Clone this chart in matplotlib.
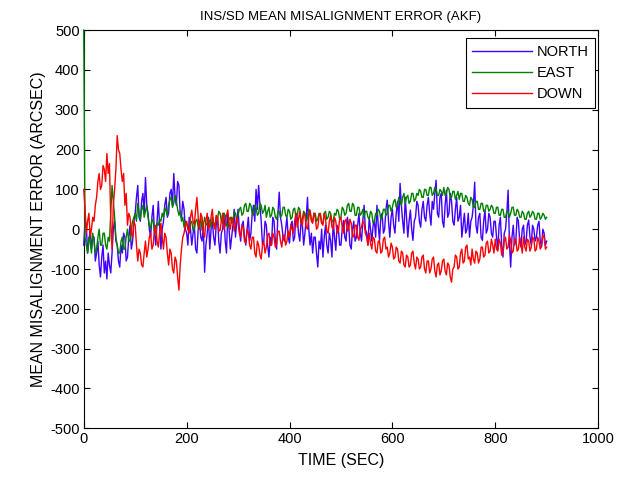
import numpy as np
import matplotlib
matplotlib.use('Agg')
import matplotlib.pyplot as plt

# Misalignment error traces (arcsec), every 2.5 sec (0..900)
north = [-40, 20, 10, -60, -30, 0, -50, -20, -20, -80, -60, -30, -90, -120, -70, -40, -110, -80, -125, -60,
         -90, -110, -60, 0, 20, -30, -40, -80, -95, -40, -60, -10, -20, -80, -70, -20, 10, -50, -30, 20,
         40, 80, 110, 30, 20, 70, 90, 40, 130, 60, 40, 0, -20, 30, 60, -10, -40, 20, 70, 10,
         -50, 0, 20, 60, 80, 30, 40, 90, 100, 60, 140, 80, 60, 120, 110, 40, 30, 70, 50, 0,
         -10, -40, 30, 0, -40, -10, 10, -50, -60, 0, 20, -20, -30, 10, -108, -40, -10, 30, -50, 0,
         20, -20, -40, 10, 30, -30, -60, -10, 0, 40, -30, -60, 40, 0, -50, -20, 10, 50, -20, 20,
         50, 0, -30, 10, 20, -20, -40, 0, 30, -30, -10, 40, 60, 20, 100, 50, 110, 60, 20, -40,
         -30, 20, 10, -40, -70, -20, -40, 30, 20, -30, -50, 40, 93, 30, 10, -20, -30, 0, 30, -20,
         -35, 10, 20, -30, -20, 40, 30, -10, -30, 20, 10, -40, -10, 30, 80, 0, -40, -10, -60, -20,
         -20, -60, -95, -30, -50, 0, -70, -20, 10, -40, -60, -10, -30, -70, 20, -20, -53, 10, 0, -40,
         -40, 0, 22, -20, -30, 30, 10, -40, -50, 0, 20, -30, -20, 10, 40, -10, -30, 20, 60, 0,
         -10, -40, 30, 0, -30, 10, 20, -20, 60, 10, -28, 30, 40, -10, 0, 50, 73, 20, -20, 30,
         50, 10, -10, 40, 70, 20, 115, 60, 20, -10, 80, 30, -20, 20, 48, 0, -28, 20, 30, 70,
         60, 20, 5, 50, 70, 30, 20, 60, 80, 40, 10, 70, 50, 90, 123, 40, 30, 80, 90, 20,
         5, 60, 98, 30, 40, 90, 70, 20, 10, 50, 80, 20, 30, 60, -20, 10, 40, -10, 0, 40,
         -20, 20, 30, 60, 118, 10, -10, 30, 40, -20, -28, 20, 48, -10, 0, 40, 30, -10, -20, 20,
         20, -20, -50, 10, 30, -40, -70, -10, 0, 40, 98, -30, -95, -20, 10, -40, -30, 30, 20, -30,
         -45, 0, 10, -40, -30, 10, 23, -20, -40, 10, 0, -30, -20, 10, 20, -30, -45, 0, -10, -40,
         -30]

east = [500, -20, -40, -60, -20, -30, -60, -10, -30, -60, -50, -20, 0, -40, -40, -10, -10, -40, -50, -20,
        -30, 40, 110, 70, 30, -20, -40, -60, -60, -30, -20, -50, -50, -20, 0, -30, -30, 0, 20, 30,
        40, 20, 65, 40, 25, 50, 60, 30, 45, 60, 30, 10, 0, 25, 20, -5, -10, 15, 10, 25,
        20, 40, 30, 55, 45, 35, 60, 75, 80, 55, 65, 85, 70, 50, 35, 45, 20, 30, 5, 20,
        15, 0, -5, 15, 20, -3, 0, 20, 25, 5, 10, 30, -3, 10, 30, 15, 10, 25, 20, 5,
        30, 15, 10, 30, 25, 45, 40, 20, 15, 40, 35, 10, 5, 25, 30, 15, 20, 45, 40, 25,
        35, 50, 55, 35, 40, 60, 65, 45, 45, 65, 60, 40, 35, 60, 55, 35, 40, 65, 60, 40,
        45, 60, 30, 45, 55, 30, 35, 55, 50, 30, 25, 45, 45, 30, 35, 55, 55, 35, 30, 50,
        45, 25, 30, 50, 53, 30, 35, 55, 50, 20, 25, 45, 40, 20, 30, 50, 45, 25, 20, 40,
        40, 20, 25, 40, 35, 15, 15, 40, 45, 25, 30, 45, 40, 20, 20, 40, 35, 50, 45, 25,
        30, 55, 50, 35, 40, 60, 65, 45, 45, 65, 60, 35, 35, 55, 55, 35, 40, 50, 30, 45,
        45, 30, 25, 45, 40, 15, 20, 40, 35, 50, 45, 25, 30, 50, 50, 35, 40, 60, 60, 45,
        55, 70, 75, 55, 60, 80, 70, 60, 80, 90, 65, 80, 85, 65, 70, 90, 90, 70, 75, 90,
        85, 100, 95, 80, 80, 100, 100, 85, 85, 105, 105, 85, 90, 105, 100, 85, 85, 100, 95, 85,
        105, 85, 90, 105, 100, 80, 80, 95, 95, 75, 85, 95, 75, 90, 90, 70, 70, 85, 80, 65,
        60, 80, 75, 55, 55, 70, 70, 50, 50, 65, 65, 45, 45, 60, 60, 45, 50, 60, 55, 40,
        40, 55, 55, 35, 35, 50, 50, 30, 30, 45, 45, 30, 40, 55, 55, 35, 35, 50, 45, 30,
        30, 45, 40, 25, 25, 40, 45, 30, 35, 45, 40, 25, 25, 40, 40, 25, 30, 40, 35, 25,
        30]

down = [100, 50, -10, 20, 40, -20, 0, 30, 20, 60, 80, 120, 140, 100, 110, 160, 150, 120, 190, 140,
        165, 20, -50, 60, 100, 150, 235, 200, 190, 150, 120, 140, 60, 90, 10, 40, 30, -10, -20, 20,
        10, -40, -80, -50, -60, -90, -95, -60, -30, -70, -50, -20, -10, -50, -40, 0, 10, -30, -45, -10,
        15, -20, -50, -10, -20, -60, -90, -50, -60, -100, -110, -70, -80, -120, -153, -90, -50, -20, -10, 10,
        20, 0, -10, 30, 48, 20, 10, 50, 80, 30, 0, 40, 30, -10, -20, 20, 40, 0, 10, 30,
        50, 10, 0, 35, 30, -5, -3, 20, 40, 0, 10, 35, 48, 15, 0, 30, 25, -5, 10, 30,
        15, -10, -20, 10, 5, -30, -35, 0, -10, -40, -50, -20, -20, -60, -70, -30, -40, -65, -75, -40,
        -30, -60, -45, -15, -10, -40, -40, -10, -20, -45, -35, -5, -5, -30, -45, -15, -15, -40, -30, -5,
        -20, 10, 0, -10, 20, 40, 5, 25, 45, 15, 10, 40, 35, 5, 0, 30, 48, 20, 15, 40,
        30, 0, 5, 35, 40, 15, 10, 40, 25, -5, -10, 20, 35, 5, 0, 30, 20, -10, -5, 25,
        30, 5, -10, 20, 25, -5, 0, 25, 15, -15, -20, 10, 10, -20, -28, 0, 5, 20, 15, -10,
        -20, -40, -10, -35, -50, -20, -25, -55, -60, -30, -30, -60, -55, -25, -20, -50, -45, -70, -60, -35,
        -45, -75, -70, -45, -50, -80, -85, -55, -60, -90, -95, -65, -70, -95, -90, -60, -55, -85, -100, -70,
        -75, -100, -95, -70, -65, -100, -110, -80, -80, -110, -100, -75, -70, -105, -120, -90, -85, -115, -105, -80,
        -75, -105, -115, -85, -90, -120, -133, -100, -95, -65, -70, -100, -95, -60, -50, -85, -80, -45, -40, -75,
        -70, -90, -50, -75, -85, -55, -60, -85, -75, -45, -45, -70, -65, -35, -30, -60, -55, -25, -40, -60,
        -25, -50, -55, -25, -35, -65, -60, -30, -20, -50, -45, -15, -30, -60, -55, -25, -25, -55, -50, -20,
        -35, -60, -20, -45, -55, -25, -30, -55, -45, -20, -25, -55, -50, -20, -30, -50, -40, -15, -20, -50,
        -45]

series_names = ['NORTH', 'EAST', 'DOWN']
series_colors = ['#4000ff', '#008000', '#ff0000']
dt = 2.5  # sample step (sec)

plt.rcParams['font.family'] = ['Liberation Sans', 'DejaVu Sans']
plt.rcParams['axes.unicode_minus'] = False

fig = plt.figure(figsize=(6.25, 4.79), dpi=100)
ax = fig.add_axes([0.134, 0.106, 0.823, 0.831])

# data drawn over the axes box like matlab does
for name, vals, col in zip(series_names, [north, east, down], series_colors):
    t = np.arange(len(vals)) * dt
    ax.plot(t, vals, color=col, lw=1.0, label=name, zorder=3, clip_on=False)

ax.set_xlim(0, 1000)
ax.set_ylim(-500, 500)
ax.set_xticks(np.arange(0, 1001, 200))
ax.set_yticks(np.arange(-500, 501, 100))
ax.tick_params(direction='in', top=True, right=True, length=4, width=0.8,
               pad=3, labelsize=10.5)
for sp in ax.spines.values():
    sp.set_linewidth(0.8)

ax.set_title('INS/SD MEAN MISALIGNMENT ERROR (AKF)', fontsize=9.5, pad=7)
ax.set_xlabel('TIME (SEC)', fontsize=11.5, labelpad=5)
ax.set_ylabel('MEAN MISALIGNMENT ERROR (ARCSEC)', fontsize=11.5, labelpad=3)

leg = ax.legend(loc='upper right', fancybox=False, edgecolor='black',
                framealpha=1, fontsize=10.5, handlelength=4.1, handletextpad=0.3,
                borderpad=0.45, labelspacing=0.5, borderaxespad=0,
                bbox_to_anchor=(0.994, 0.98))
leg.get_frame().set_linewidth(0.8)
leg.set_zorder(5)

fig.savefig('out.png', dpi=100)
